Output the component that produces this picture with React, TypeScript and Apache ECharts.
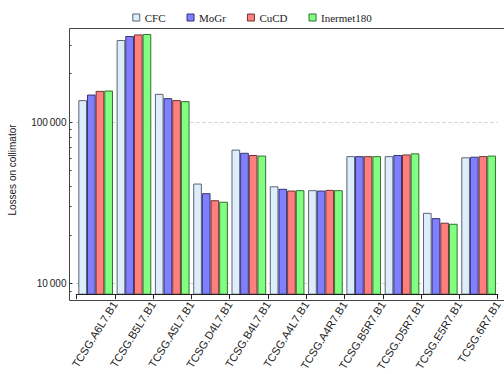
import React, { useEffect, useRef } from "react";
import * as echarts from "echarts";

// Collimators along the IR7 cleaning insertion
const categories = [
  "TCSG.A6L7.B1",
  "TCSG.B5L7.B1",
  "TCSG.A5L7.B1",
  "TCSG.D4L7.B1",
  "TCSG.B4L7.B1",
  "TCSG.A4L7.B1",
  "TCSG.A4R7.B1",
  "TCSG.B5R7.B1",
  "TCSG.D5R7.B1",
  "TCSG.E5R7.B1",
  "TCSG.6R7.B1",
];

const materials = ["CFC", "MoGr", "CuCD", "Inermet180"];

const lossesCFC = [136700, 322000, 149500, 41600, 67500, 40000, 37850, 61500, 61500, 27400, 60500];
const lossesMoGr = [148000, 341000, 140600, 36250, 64500, 38600, 37650, 61500, 62500, 25400, 61000];
const lossesCuCD = [156000, 349000, 136700, 32800, 62500, 37650, 38000, 61500, 63000, 23800, 61500];
const lossesInermet = [156700, 351000, 134800, 32100, 62000, 37850, 37850, 61500, 64000, 23450, 62000];

const majorTicks = [10000, 100000];
const minorTicks = [9000, 20000, 30000, 40000, 50000, 60000, 70000, 80000, 90000, 200000, 300000];

const fills = ["#deedfc", "#7f7fff", "#ff7f7f", "#80ff80"];
const edges = ["#5b6570", "#34346e", "#6e3434", "#346e34"];

const Y_MIN = 8590;
const Y_MAX = 379600;

export default function App() {
  const ref = useRef<HTMLDivElement>(null);

  useEffect(() => {
    if (!ref.current) return;
    const chart = echarts.init(ref.current, undefined, { renderer: "svg" });
    const values = [lossesCFC, lossesMoGr, lossesCuCD, lossesInermet];

    const fmt = (v: number) =>
      v >= 1000 ? String(Math.round(v)).replace(/\B(?=(\d{3})+(?!\d))/g, "\u2009") : String(v);

    chart.setOption({
      animation: false,
      backgroundColor: "#ffffff",
      legend: {
        top: 7,
        left: "center",
        itemWidth: 7,
        itemHeight: 7,
        itemGap: 21,
        icon: "rect",
        selectedMode: false,
        itemStyle: { borderWidth: 1 },
        textStyle: { fontFamily: "Liberation Serif", fontSize: 11, color: "#222" },
        data: materials,
      },
      grid: { left: 76.5, right: 1.8, top: 28.5, bottom: 79, containLabel: false },
      xAxis: [
        {
          type: "category",
          data: categories,
          position: "bottom",
          z: 4,
          axisLine: { show: true, onZero: false, lineStyle: { color: "#222", width: 1.2 } },
          axisTick: { show: true, inside: false, length: 5, interval: 0, lineStyle: { color: "#222" } },
          axisLabel: { show: false },
          splitLine: { show: false },
        },
        {
          type: "category",
          data: ["", ...categories],
          boundaryGap: false,
          position: "bottom",
          offset: 5,
          axisLine: { show: false },
          axisTick: { show: false },
          splitLine: { show: false },
          axisLabel: {
            show: true,
            interval: 0,
            rotate: 58,
            margin: 3,
            fontFamily: "Liberation Sans",
            fontSize: 11,
            color: "#222",
          },
        },
      ],
      yAxis: [
        {
          type: "log",
          min: Y_MIN,
          max: Y_MAX,
          position: "left",
          offset: 7,
          axisLine: { show: false },
          axisTick: {
            show: true,
            inside: true,
            length: 3,
            customValues: majorTicks,
            lineStyle: { color: "#333" },
          },
          axisLabel: {
            show: true,
            customValues: majorTicks,
            margin: 3,
            formatter: (v: number) => fmt(v),
            fontFamily: "Liberation Sans",
            fontSize: 10,
            color: "#222",
          },
          splitLine: {
            show: true,
            lineStyle: { color: "#cccccc", type: [3, 3], width: 1 },
          },
        },
        {
          type: "log",
          min: Y_MIN,
          max: Y_MAX,
          position: "left",
          offset: 7,
          axisLine: { show: false },
          axisTick: {
            show: true,
            inside: true,
            length: 2,
            customValues: minorTicks,
            lineStyle: { color: "#333" },
          },
          axisLabel: { show: false },
          splitLine: { show: false },
        },
      ],
      series: materials.map((name, i) => ({
        name,
        type: "bar",
        data: values[i],
        barGap: "0%",
        barCategoryGap: "9.5%",
        clip: true,
        itemStyle: { color: fills[i], borderColor: edges[i], borderWidth: 1 },
      })),
      graphic: [
        {
          type: "polyline",
          silent: true,
          z: 10,
          shape: {
            points: [
              [504, 28.5],
              [69.5, 28.5],
              [69.5, 300.5],
              [504, 300.5],
            ],
          },
          style: { stroke: "#444", lineWidth: 1, fill: "none" },
        },
        {
          type: "text",
          x: 12,
          y: 170,
          rotation: Math.PI / 2,
          style: {
            text: "Losses on collimator",
            fontFamily: "Liberation Sans",
            fontSize: 10,
            fill: "#222",
            align: "center",
            verticalAlign: "middle",
          },
        },
      ],
    });

    return () => chart.dispose();
  }, []);

  return (
    <div
      ref={ref}
      style={{ position: "absolute", left: 0, top: 0, width: 504, height: 374 }}
    />
  );
}
